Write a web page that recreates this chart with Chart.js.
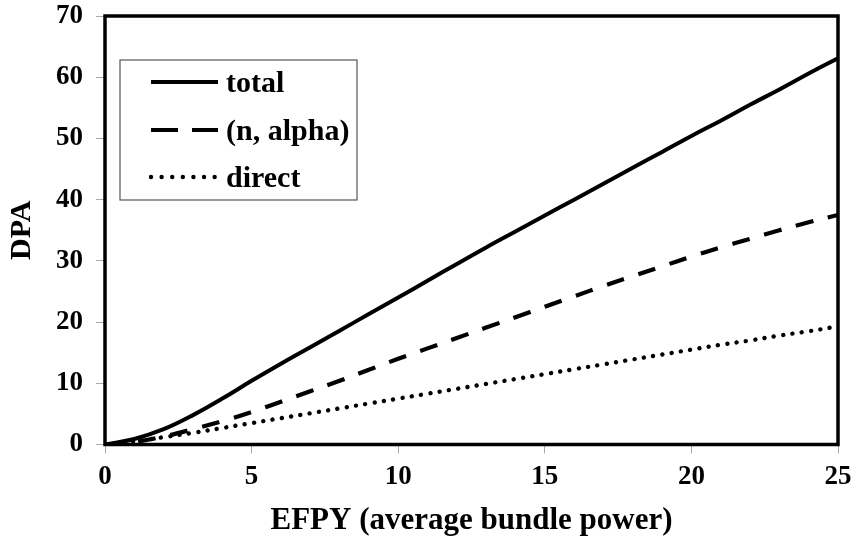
<!DOCTYPE html>
<html>
<head>
<meta charset="utf-8">
<title>DPA vs EFPY</title>
<script src="https://cdn.jsdelivr.net/npm/chart.js@4/dist/chart.umd.min.js"></script>
<style>
  html, body { margin: 0; padding: 0; background: #fff; }
  canvas { display: block; }
</style>
</head>
<body>
<canvas id="dpa" width="855" height="536"></canvas>
<script>
// Effective full power years
const years = [0, 1, 2, 3, 4, 5, 6, 7, 8, 9, 10, 11, 12, 13, 14, 15, 16, 17, 18, 19, 20, 21, 22, 23, 24, 25];

// Displacements per atom
const totalDpa  = [0, 0.9, 2.5, 4.8, 7.5, 10.4, 13.2, 15.9, 18.6, 21.3, 24.0, 26.75, 29.5, 32.2, 34.8, 37.4, 40.0, 42.6, 45.2, 47.8, 50.4, 52.9, 55.5, 58.0, 60.6, 63.1];
const nAlphaDpa = [0, 0.4, 1.3, 2.5, 3.8, 5.3, 7.0, 8.7, 10.4, 12.2, 14.0, 15.7, 17.4, 19.1, 20.8, 22.5, 24.2, 25.9, 27.5, 29.1, 30.7, 32.2, 33.6, 35.0, 36.3, 37.5];
const directDpa = [0, 0.5, 1.2, 1.9, 2.7, 3.5, 4.3, 5.1, 5.9, 6.7, 7.5, 8.3, 9.1, 9.9, 10.7, 11.5, 12.3, 13.1, 13.9, 14.7, 15.5, 16.3, 17.0, 17.8, 18.5, 19.3];

const seriesNames = ['total', '(n, alpha)', 'direct'];
const xTickValues = [0, 5, 10, 15, 20, 25];
const yTickValues = [0, 10, 20, 30, 40, 50, 60, 70];

const SERIF = '"Liberation Serif", "Times New Roman", serif';

const toPoints = (vals) => vals.map((v, i) => ({ x: years[i], y: v }));

// Heavy black frame around the plotting area
const framePlugin = {
  id: 'frame',
  afterDatasetsDraw(chart) {
    const { ctx, chartArea: a } = chart;
    ctx.save();
    ctx.strokeStyle = '#000';
    ctx.lineWidth = 3.5;
    ctx.strokeRect(a.left, a.top, a.right - a.left, a.bottom - a.top);
    ctx.restore();
  }
};

// Boxed legend in the upper-left of the plot
const boxLegendPlugin = {
  id: 'boxLegend',
  afterDraw(chart) {
    const { ctx, chartArea: a } = chart;
    const x0 = a.left + 15, y0 = a.top + 44, w = 237, h = 140;
    ctx.save();
    ctx.fillStyle = '#fff';
    ctx.fillRect(x0, y0, w, h);
    ctx.strokeStyle = '#555';
    ctx.lineWidth = 1.2;
    ctx.strokeRect(x0, y0, w, h);
    const rows = [22, 70, 117];
    const legendDash = [[], [27, 14], [0.01, 10.6]];
    chart.data.datasets.forEach((ds, i) => {
      const yy = y0 + rows[i];
      ctx.beginPath();
      ctx.strokeStyle = ds.borderColor;
      ctx.lineWidth = ds.borderWidth;
      ctx.lineCap = ds.borderCapStyle || 'butt';
      ctx.setLineDash(legendDash[i]);
      ctx.moveTo(x0 + 31, yy);
      ctx.lineTo(x0 + 98, yy);
      ctx.stroke();
      ctx.setLineDash([]);
      ctx.fillStyle = '#000';
      ctx.font = 'bold 30px ' + SERIF;
      ctx.textBaseline = 'middle';
      ctx.textAlign = 'left';
      ctx.fillText(ds.label, x0 + 106, yy + 2);
    });
    ctx.restore();
  }
};

new Chart(document.getElementById('dpa'), {
  type: 'line',
  data: {
    datasets: [
      {
        label: seriesNames[0],
        data: toPoints(totalDpa),
        borderColor: '#000',
        borderWidth: 4,
        pointRadius: 0,
        tension: 0.4
      },
      {
        label: seriesNames[1],
        data: toPoints(nAlphaDpa),
        borderColor: '#000',
        borderWidth: 4.2,
        borderDash: [18, 15],
        pointRadius: 0,
        tension: 0.4
      },
      {
        label: seriesNames[2],
        data: toPoints(directDpa),
        borderColor: '#000',
        borderWidth: 4.4,
        borderDash: [0.01, 9.4],
        borderCapStyle: 'round',
        pointRadius: 0,
        tension: 0.4
      }
    ]
  },
  options: {
    responsive: false,
    devicePixelRatio: 1,
    animation: false,
    events: [],
    layout: { padding: { top: 16, right: 17, left: 0, bottom: 0 } },
    plugins: {
      legend: { display: false },
      tooltip: { enabled: false }
    },
    scales: {
      x: {
        type: 'linear',
        min: 0,
        max: 25,
        afterBuildTicks: (s) => { s.ticks = xTickValues.map(v => ({ value: v })); },
        afterFit: (s) => {
          s.height = 91.5;
          s.paddingLeft = 0; s.paddingRight = 0;
        },
        ticks: {
          color: '#000',
          font: { family: SERIF, size: 27, weight: 'bold' },
          padding: 7,
          maxRotation: 0
        },
        grid: {
          drawOnChartArea: false,
          drawTicks: true,
          tickLength: 9,
          tickColor: '#aaa',
          tickWidth: 1
        },
        border: { display: false },
        title: {
          display: true,
          text: 'EFPY (average bundle power)',
          color: '#000',
          font: { family: SERIF, size: 31, weight: 'bold', lineHeight: 1.0 },
          padding: { top: 0, bottom: 0 }
        }
      },
      y: {
        min: 0,
        max: 70,
        afterBuildTicks: (s) => { s.ticks = yTickValues.map(v => ({ value: v })); },
        afterFit: (s) => {
          s.width = 105;
          s.paddingTop = 0; s.paddingBottom = 0;
        },
        ticks: {
          color: '#000',
          font: { family: SERIF, size: 27, weight: 'bold' },
          padding: 13
        },
        grid: {
          drawOnChartArea: false,
          drawTicks: true,
          tickLength: 9,
          tickColor: '#aaa',
          tickWidth: 1
        },
        border: { display: false },
        title: {
          display: true,
          text: 'DPA',
          color: '#000',
          font: { family: SERIF, size: 30, weight: 'bold', lineHeight: 1.0 },
          padding: { top: 7, bottom: 0 }
        }
      }
    }
  },
  plugins: [framePlugin, boxLegendPlugin]
});
</script>
</body>
</html>
